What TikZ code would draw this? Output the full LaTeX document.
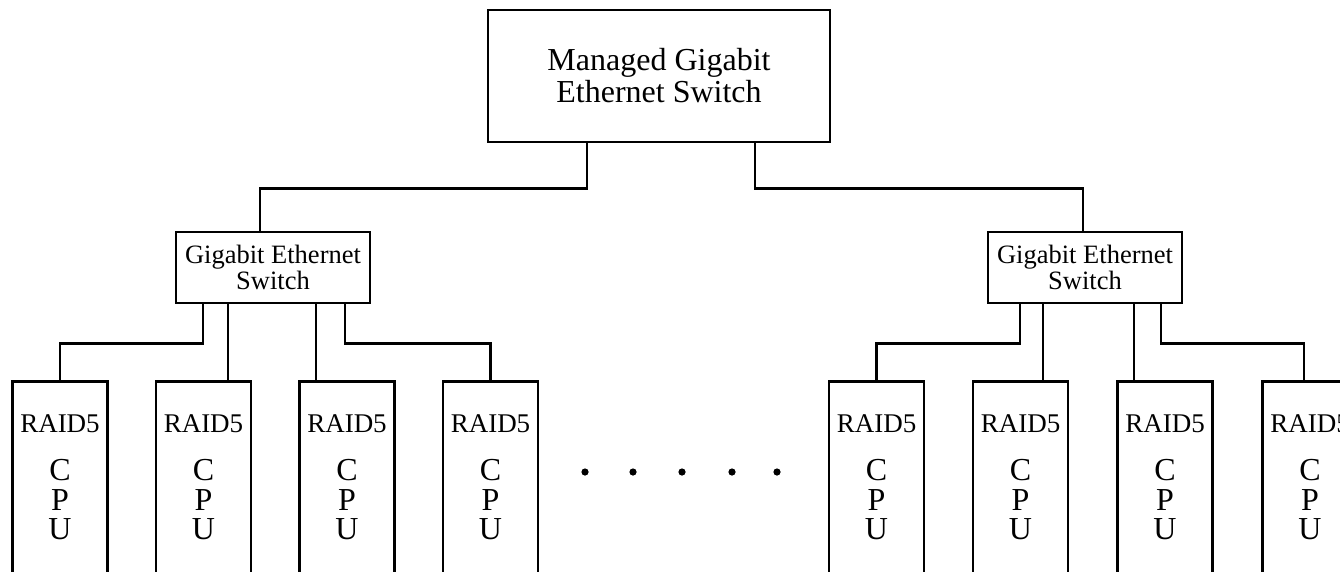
\documentclass[tikz,border=0pt]{standalone}
\usepackage{fontspec}
\setmainfont{Liberation Serif}
\usetikzlibrary{positioning}
\tikzset{
  font={\fontsize{27pt}{27}\selectfont}}

\begin{document}
\begin{tikzpicture}[x=1pt,y=-1pt,
    block_main/.style ={rectangle, draw=black, line width=2.8pt, fill=white,
      minimum width=342pt, minimum height=132pt, align=center, inner sep=0pt,
      font={\fontsize{32pt}{32}\selectfont}},
    block_switch/.style ={rectangle, draw=black, line width=2.8pt, fill=white,
      minimum width=194pt, minimum height=71pt, align=center, inner sep=0pt,
      font={\fontsize{26.5pt}{26}\selectfont}},
    block_raid/.style ={rectangle, draw=black, line width=2.8pt, fill=white,
      minimum width=95pt, minimum height=230pt, anchor=north, inner sep=0pt},
    label_raid/.style ={inner sep=0pt, font={\fontsize{27pt}{27}\selectfont}},
    label_cpu/.style ={inner sep=0pt, align=center,
      font={\fontsize{32pt}{29.5}\selectfont}},
    link/.style={black, draw, line width=2.8pt}]
    \useasboundingbox (0,0) rectangle (1340,571);
    \clip (0,0) rectangle (1340,571);
    % switches
    \node[block_main] (mgs) at (659,76) {Managed Gigabit\\Ethernet Switch};
    \node[block_switch] (sw1) at (273,267.5) {Gigabit Ethernet\\Switch};
    \node[block_switch] (sw2) at (1085,267.5) {Gigabit Ethernet\\Switch};
    % storage nodes
    \foreach \n/\x in {1/60, 2/203.5, 3/347, 4/490.5, 5/876.5, 6/1020.5, 7/1165, 8/1310}{
      \node[block_raid] (raid\n) at (\x,380) {};
      \node[label_raid, below=34pt of raid\n.north] (raidtxt\n) {RAID5};
      \node[label_cpu, below=79.5pt of raid\n.north] (cpu\n) {C\\P\\U};
    }
    % the dots between the two groups
    \foreach \x in {585,633,682,732,777}
      \fill (\x,472) circle (3.6pt);
    % connecting nodes with paths
    \begin{scope}[every path/.style=link]
      % uplinks
      \path ([xshift=-72pt]mgs.south) -- ++(0,45) -| ([xshift=-13pt]sw1.north);
      \path ([xshift=96pt]mgs.south) -- ++(0,45) -| ([xshift=-2pt]sw2.north);
      % left group
      \path ([xshift=-70pt]sw1.south) -- ++(0,39) -| (raid1.north);
      \path ([xshift=-45pt]sw1.south) -- ++(0,77);
      \path ([xshift=43pt]sw1.south) -- ++(0,77);
      \path ([xshift=72pt]sw1.south) -- ++(0,39) -| (raid4.north);
      % right group
      \path ([xshift=-65pt]sw2.south) -- ++(0,39) -| (raid5.north);
      \path ([xshift=-42pt]sw2.south) -- ++(0,77);
      \path ([xshift=49pt]sw2.south) -- ++(0,77);
      \path ([xshift=76pt]sw2.south) -- ++(0,39) -| ([xshift=-6pt]raid8.north);
    \end{scope}
\end{tikzpicture}
\end{document}
